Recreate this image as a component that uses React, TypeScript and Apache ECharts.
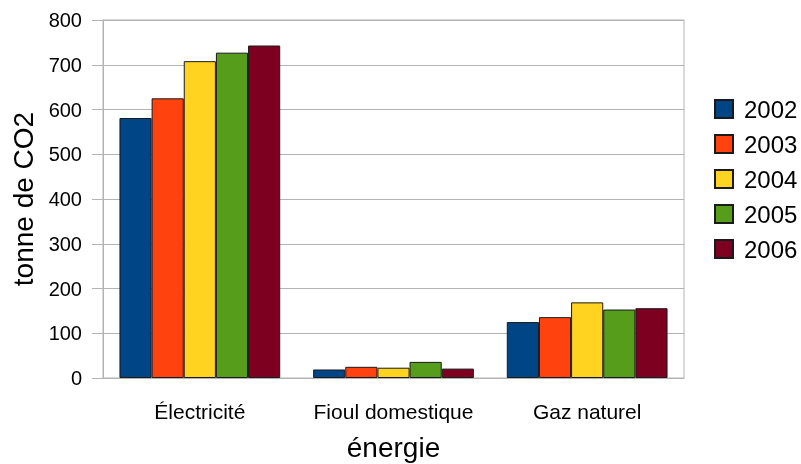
import React, { useEffect, useRef } from "react";
import * as echarts from "echarts";

const categories = ["Électricité", "Fioul domestique", "Gaz naturel"];
const years = ["2002", "2003", "2004", "2005", "2006"];
const values2002 = [581, 19, 125];
const values2003 = [625, 25, 136];
const values2004 = [708, 23, 169];
const values2005 = [727, 36, 153];
const values2006 = [743, 21, 156];
const yTicks = [0, 100, 200, 300, 400, 500, 600, 700, 800];
const colors = ["#004586", "#ff420e", "#ffd320", "#579d1c", "#7e0021"];

const seriesValues = [values2002, values2003, values2004, values2005, values2006];

export default function App() {
  const ref = useRef<HTMLDivElement>(null);
  useEffect(() => {
    if (!ref.current) return;
    const chart = echarts.init(ref.current, undefined, { renderer: "svg" });
    const font = "Liberation Sans";
    chart.setOption({
      animation: false,
      textStyle: { fontFamily: font },
      grid: {
        left: 103,
        right: 117,
        top: 20,
        bottom: 86,
        show: true,
        borderColor: "#b3b3b3",
        borderWidth: 1,
        containLabel: false,
        outerBoundsMode: "none",
      },
      legend: {
        orient: "vertical",
        left: 709,
        top: 92,
        itemWidth: 18,
        itemHeight: 18,
        itemGap: 11,
        icon: "rect",
        data: years,
        textStyle: { fontSize: 24, color: "#000", fontFamily: font, padding: [0, 0, 0, 6] },
      },
      xAxis: {
        type: "category",
        data: categories,
        name: "énergie",
        nameLocation: "middle",
        nameGap: 55,
        nameTextStyle: { fontSize: 28, color: "#000", fontFamily: font },
        axisLine: { lineStyle: { color: "#b3b3b3", width: 1 } },
        axisTick: { alignWithLabel: true, interval: 0, length: 10, lineStyle: { color: "#b3b3b3" } },
        axisLabel: { fontSize: 21, color: "#000", margin: 23, interval: 0, hideOverlap: false, fontFamily: font },
      },
      yAxis: {
        type: "value",
        min: yTicks[0],
        max: yTicks[yTicks.length - 1],
        interval: 100,
        name: "tonne de CO2",
        nameLocation: "middle",
        nameRotate: 90,
        nameGap: 65,
        nameTextStyle: { fontSize: 28, color: "#000", fontFamily: font },
        axisLine: { show: true, lineStyle: { color: "#b3b3b3", width: 1 } },
        axisTick: { show: true, length: 11, lineStyle: { color: "#b3b3b3" } },
        splitLine: { lineStyle: { color: "#b3b3b3", width: 1 } },
        axisLabel: { fontSize: 20, color: "#000", margin: 21, fontFamily: font },
      },
      series: years.map((y, i) => ({
        name: y,
        type: "bar",
        data: seriesValues[i],
        barGap: "0%",
        barCategoryGap: "17%",
        itemStyle: { color: colors[i], borderColor: "#1a1a1a", borderWidth: 1 },
      })),
    });
    return () => chart.dispose();
  }, []);
  return (
    <div
      ref={ref}
      style={{ position: "fixed", left: 0, top: 0, width: 801, height: 464 }}
    />
  );
}
